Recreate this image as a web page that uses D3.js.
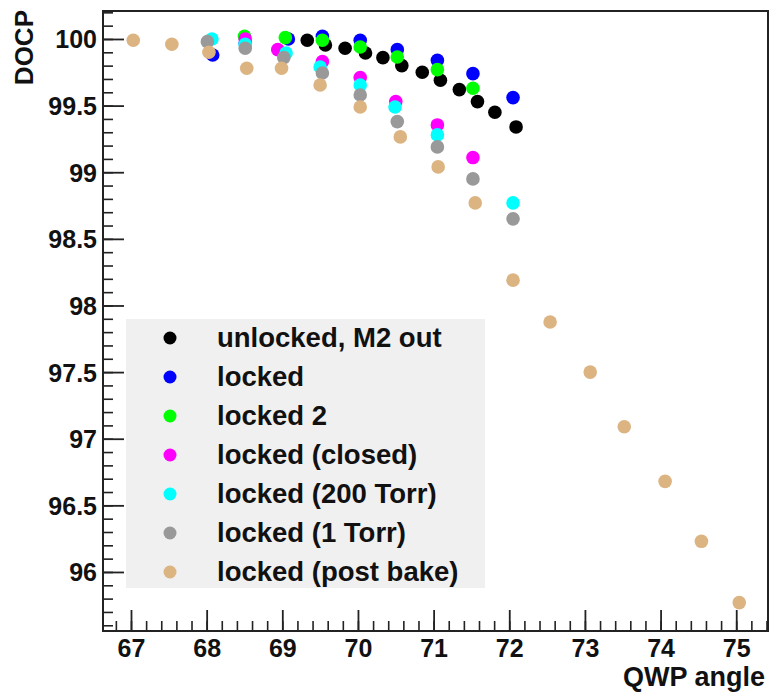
<!DOCTYPE html>
<html>
<head>
<meta charset="utf-8">
<script src="https://d3js.org/d3.v7.min.js"></script>
<style>
  body { margin: 0; background: #fff; }
  text { font-family: "Liberation Sans", Arial, sans-serif; font-weight: bold; fill: #111; }
</style>
</head>
<body>
<div id="my_dataviz"></div>
<script>
// series names, in legend / drawing order
const seriesNames = ["unlocked, M2 out", "locked", "locked 2", "locked (closed)",
                     "locked (200 Torr)", "locked (1 Torr)", "locked (post bake)"];
const seriesColors = ["#000000", "#0000ff", "#00ff00", "#ff00ff", "#00ffff", "#999999", "#dcb482"];

// QWP angle / DOCP values, one pair of arrays per series
const unlockedX = [69.33, 69.57, 69.83, 70.10, 70.33, 70.58, 70.85, 71.09, 71.34, 71.58, 71.81, 72.09];
const unlockedY = [99.99, 99.955, 99.93, 99.895, 99.86, 99.80, 99.75, 99.69, 99.62, 99.53, 99.45, 99.34];

const lockedX = [68.08, 68.51, 69.08, 69.53, 70.03, 70.52, 71.05, 71.52, 72.05];
const lockedY = [99.88, 99.97, 100.0, 100.02, 99.99, 99.92, 99.84, 99.74, 99.56];

const locked2X = [68.50, 69.04, 69.53, 70.03, 70.52, 71.05, 71.52];
const locked2Y = [100.02, 100.01, 99.99, 99.94, 99.865, 99.77, 99.63];

const closedX = [68.51, 68.94, 69.53, 70.03, 70.50, 71.05, 71.52];
const closedY = [100.0, 99.92, 99.83, 99.71, 99.53, 99.355, 99.11];

const torr200X = [68.07, 68.51, 69.05, 69.50, 70.03, 70.49, 71.05, 72.05];
const torr200Y = [100.0, 99.96, 99.895, 99.79, 99.655, 99.49, 99.28, 98.77];

const torr1X = [68.01, 68.51, 69.02, 69.53, 70.03, 70.52, 71.05, 71.52, 72.05];
const torr1Y = [99.98, 99.93, 99.86, 99.745, 99.58, 99.38, 99.19, 98.95, 98.65];

const bakeX = [67.03, 67.54, 68.03, 68.53, 68.99, 69.50, 70.03, 70.56, 71.06, 71.55,
               72.05, 72.54, 73.07, 73.52, 74.06, 74.54, 75.04];
const bakeY = [99.99, 99.96, 99.90, 99.78, 99.78, 99.655, 99.49, 99.265, 99.04, 98.77,
               98.19, 97.876, 97.50, 97.09, 96.68, 96.23, 95.77];

// tick values
const xTicks = [67, 68, 69, 70, 71, 72, 73, 74, 75];
const yTicks = [96, 96.5, 97, 97.5, 98, 98.5, 99, 99.5, 100];

const seriesX = [unlockedX, lockedX, locked2X, closedX, torr200X, torr1X, bakeX];
const seriesY = [unlockedY, lockedY, locked2Y, closedY, torr200Y, torr1Y, bakeY];

const width = 777, height = 693;
const frameL = 103, frameR = 768, frameT = 11, frameB = 631;

const svg = d3.select("#my_dataviz")
    .append("svg")
    .attr("width", width)
    .attr("height", height);

const x = d3.scaleLinear().domain([66.63, 75.42]).range([frameL, frameR]);
const y = d3.scaleLinear().domain([95.557, 100.21]).range([frameB, frameT]);

// minor ticks
const xMinor = d3.range(66.8, 75.41, 0.2);
const yMinor = d3.range(95.6, 100.21, 0.1);

svg.append("g")
    .attr("transform", `translate(0,${frameB})`)
    .call(d3.axisBottom(x).tickValues(xMinor).tickSize(-10).tickFormat(""))
    .call(g => g.select(".domain").remove())
    .call(g => g.selectAll("line").attr("stroke", "#222").attr("stroke-width", 1.6));

svg.append("g")
    .attr("transform", `translate(${frameL},0)`)
    .call(d3.axisLeft(y).tickValues(yMinor).tickSize(-10).tickFormat(""))
    .call(g => g.select(".domain").remove())
    .call(g => g.selectAll("line").attr("stroke", "#222").attr("stroke-width", 1.6));

// major ticks with labels
svg.append("g")
    .attr("transform", `translate(0,${frameB})`)
    .call(d3.axisBottom(x).tickValues(xTicks).tickSize(-21).tickPadding(9).tickFormat(d => d))
    .call(g => g.select(".domain").remove())
    .call(g => g.selectAll("line").attr("stroke", "#222").attr("stroke-width", 1.8))
    .call(g => g.selectAll("text")
        .attr("y", 26).attr("dy", 0)
        .style("font-size", "25px").style("font-family", "Liberation Sans, Arial, sans-serif")
        .style("font-weight", "bold").attr("fill", "#111"));

svg.append("g")
    .attr("transform", `translate(${frameL},0)`)
    .call(d3.axisLeft(y).tickValues(yTicks).tickSize(-21).tickPadding(6).tickFormat(d => d))
    .call(g => g.select(".domain").remove())
    .call(g => g.selectAll("line").attr("stroke", "#222").attr("stroke-width", 1.8))
    .call(g => g.selectAll("text")
        .attr("dy", "0.36em")
        .style("font-size", "25px").style("font-family", "Liberation Sans, Arial, sans-serif")
        .style("font-weight", "bold").attr("fill", "#111"));

// frame
svg.append("rect")
    .attr("x", frameL).attr("y", frameT)
    .attr("width", frameR - frameL).attr("height", frameB - frameT)
    .attr("fill", "none")
    .attr("stroke", "#222")
    .attr("stroke-width", 2);

// axis titles
svg.append("text")
    .attr("transform", `translate(33,10) rotate(-90)`)
    .attr("text-anchor", "end")
    .style("font-size", "26px")
    .text("DOCP");

svg.append("text")
    .attr("x", 765).attr("y", 686)
    .attr("text-anchor", "end")
    .style("font-size", "27px")
    .text("QWP angle");

// legend box
const legend = svg.append("g");
legend.append("rect")
    .attr("x", 126).attr("y", 319)
    .attr("width", 359).attr("height", 269)
    .attr("fill", "#f0f0f0");

const rowY = d3.scaleLinear().domain([0, 6]).range([338, 572]);

seriesNames.forEach((name, i) => {
    legend.append("circle")
        .attr("cx", 170).attr("cy", rowY(i))
        .attr("r", 6.5)
        .attr("fill", seriesColors[i]);
    legend.append("text")
        .attr("x", 217).attr("y", rowY(i) + 9)
        .style("font-size", "27.5px")
        .text(name);
});

// data points, drawn in legend order
seriesNames.forEach((name, i) => {
    const pts = seriesX[i].map((v, j) => [v, seriesY[i][j]]);
    svg.append("g")
        .selectAll("circle")
        .data(pts)
        .join("circle")
        .attr("cx", d => x(d[0]))
        .attr("cy", d => y(d[1]))
        .attr("r", 6.8)
        .attr("fill", seriesColors[i]);
});
</script>
</body>
</html>
